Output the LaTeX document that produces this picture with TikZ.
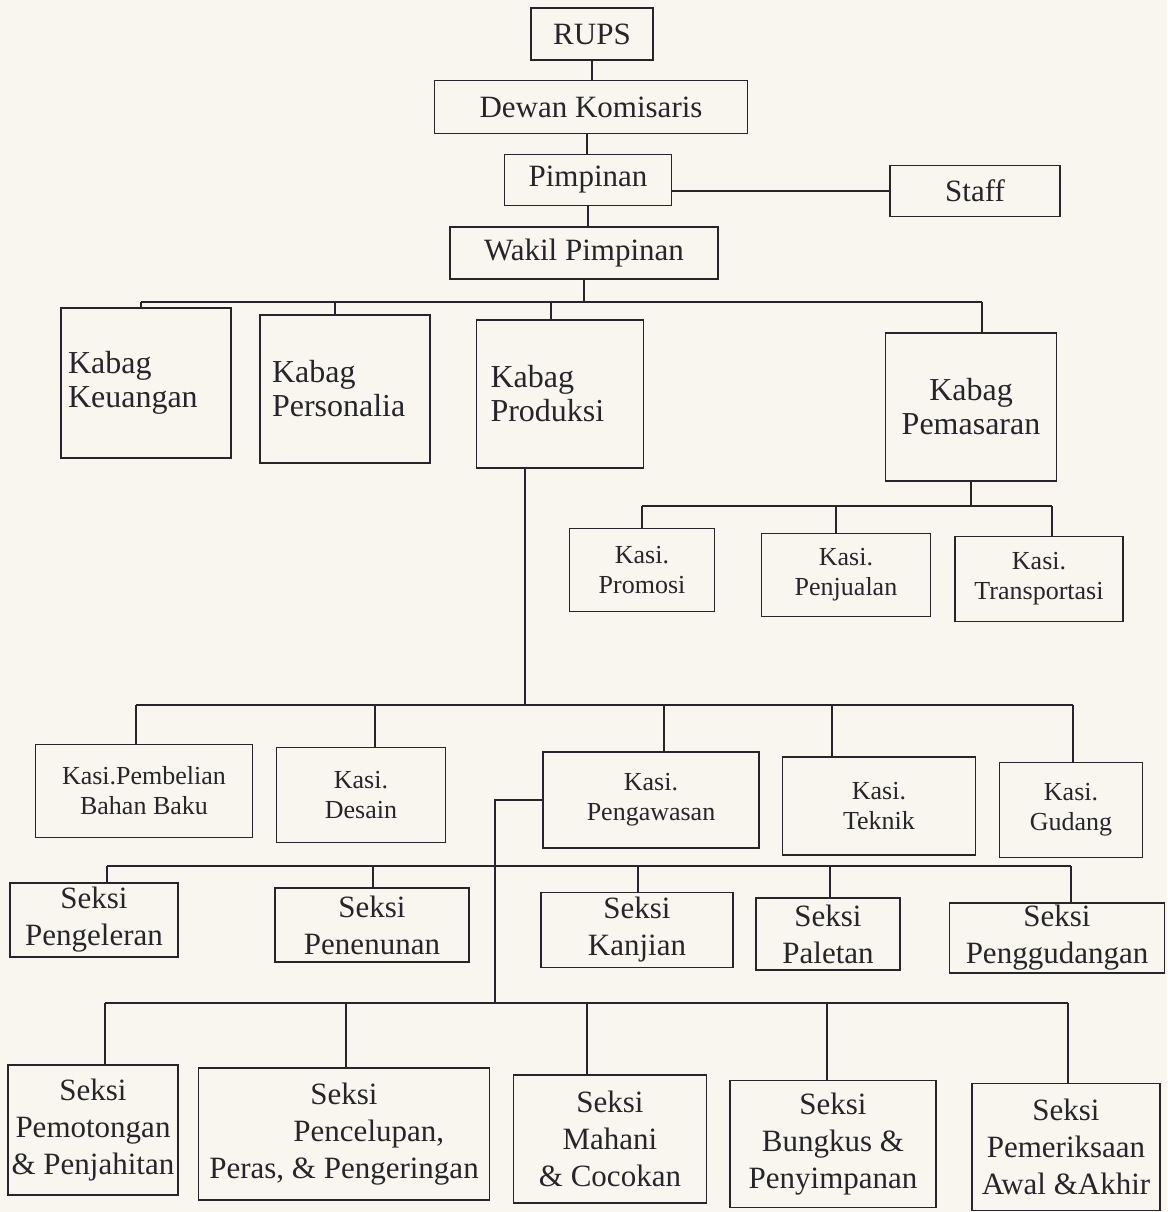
\documentclass[tikz,border=0pt]{standalone}
\usepackage{fontspec}
\setmainfont{Liberation Serif}
\usetikzlibrary{positioning,calc}
\definecolor{paper}{RGB}{249,246,240}
\definecolor{ink}{RGB}{38,38,42}

\tikzset{
	orgbox/.style={draw=ink, line width=1.4pt, text=ink, inner sep=0pt, align=center},
	headbox/.style={orgbox, font=\fontsize{31}{35}\selectfont},
	kabagbox/.style={orgbox, font=\fontsize{32}{34}\selectfont},
	kabagleft/.style 2 args={kabagbox, align=left, text width=#1, inner xsep=#2},
	kasibox/.style={orgbox, font=\fontsize{26}{30}\selectfont},
	seksibox/.style={orgbox, font=\fontsize{31}{37}\selectfont},
	link/.style={draw=ink, line width=1.4pt},
}

\begin{document}
\begin{tikzpicture}[x=1pt,y=-1pt]
		% paper and margins
		\fill[paper] (0,0) rectangle (1167,1212);
		\useasboundingbox (0,0) rectangle (1167,1212);
		% draw top nodes
		\node[headbox, minimum width=122, minimum height=52] (rups) at (592,34) {RUPS};
		\node[headbox, minimum width=313, minimum height=53] (dewan) at (591,107) {Dewan Komisaris};
		\node[headbox, minimum width=167, minimum height=51] (pimpinan) at (588,180) {Pimpinan};
		\node[headbox, minimum width=170, minimum height=51] (staff) at (975,191) {Staff};
		\node[headbox, minimum width=268, minimum height=52] (wakil) at (584,253) {Wakil Pimpinan};
		% draw kabag nodes
		\node[kabagleft={156}{7}, minimum height=150] (keuangan) at (146,383) {Kabag\\Keuangan};
		\node[kabagleft={146}{12}, minimum height=148] (personalia) at (345,389) {Kabag\\Personalia};
		\node[kabagleft={139}{14}, minimum height=148] (produksi) at (560,394) {Kabag\\Produksi};
		\node[kabagbox, minimum width=171, minimum height=148] (pemasaran) at (971,407) {Kabag\\Pemasaran};
		% draw kasi nodes under pemasaran
		\node[kasibox, minimum width=145, minimum height=83] (promosi) at (642,570) {Kasi.\\Promosi};
		\node[kasibox, minimum width=169, minimum height=83] (penjualan) at (846,575) {Kasi.\\Penjualan};
		\node[kasibox, minimum width=168, minimum height=85] (transportasi) at (1039,579) {Kasi.\\Transportasi};
		% draw kasi nodes under produksi
		\node[kasibox, minimum width=217, minimum height=93] (pembelian) at (144,791) {Kasi.Pembelian\\Bahan Baku};
		\node[kasibox, minimum width=169, minimum height=95] (desain) at (361,795) {Kasi.\\Desain};
		\node[kasibox, minimum width=216, minimum height=96] (pengawasan) at (651,800) {Kasi.\\Pengawasan};
		\node[kasibox, minimum width=193, minimum height=98] (teknik) at (879,806) {Kasi.\\Teknik};
		\node[kasibox, minimum width=143, minimum height=95] (gudang) at (1071,810) {Kasi.\\Gudang};
		% draw seksi nodes, first row
		\node[seksibox, minimum width=168, minimum height=74] (pengeleran) at (94,920) {Seksi\\Pengeleran};
		\node[seksibox, minimum width=194, minimum height=74] (penenunan) at (372,925) {Seksi\\Penenunan};
		\node[seksibox, minimum width=192, minimum height=75] (kanjian) at (637,930) {Seksi\\Kanjian};
		\node[seksibox, minimum width=144, minimum height=72] (paletan) at (828,934) {Seksi\\Paletan};
		\node[seksibox, minimum width=215, minimum height=70] (penggudangan) at (1057,938) {Seksi\\Penggudangan};
		% draw seksi nodes, second row
		\node[seksibox, minimum width=170, minimum height=130] (pemotongan) at (93,1130) {Seksi\\Pemotongan\\\& Penjahitan};
		\node[seksibox, minimum width=291, minimum height=132] (pencelupan) at (344,1134) {Seksi\\\hspace*{1.6em}Pencelupan,\\Peras, \& Pengeringan};
		\node[seksibox, minimum width=193, minimum height=128] (mahani) at (610,1139) {Seksi\\Mahani\\\& Cocokan};
		\node[seksibox, minimum width=206, minimum height=127] (bungkus) at (833,1144) {Seksi\\Bungkus \&\\Penyimpanan};
		\node[seksibox, minimum width=188, minimum height=127] (pemeriksaan) at (1066,1147) {Seksi\\Pemeriksaan\\Awal \&Akhir};
		% bus lines
		\coordinate (busA) at (0,302);
		\coordinate (busB) at (0,506);
		\coordinate (busC) at (0,705);
		\coordinate (busD) at (0,866);
		\coordinate (busE) at (0,1003);
		\coordinate (joinE) at (495,1003);
		% draw top connectors
		\draw[link] (rups.south) -- (rups.south |- dewan.north);
		\draw[link] ([xshift=-4]dewan.south) -- ([xshift=-4]dewan.south |- pimpinan.north);
		\draw[link] (pimpinan.south) -- (pimpinan.south |- wakil.north);
		\draw[link] (staff.west) -- (staff.west -| pimpinan.east);
		% draw kabag connectors
		\draw[link] (wakil.south) -- (wakil.south |- busA);
		\foreach \c/\d in {keuangan/-5, personalia/-10, produksi/-9, pemasaran/11}
		\draw[link] ([xshift=\d]\c.north) -- ([xshift=\d]\c.north |- busA);
		\draw[link] ([xshift=-5]keuangan.north |- busA) -- ([xshift=11]pemasaran.north |- busA);
		% draw pemasaran connectors
		\draw[link] (pemasaran.south) -- (pemasaran.south |- busB);
		\foreach \c/\d in {promosi/0, penjualan/-10, transportasi/13}
		\draw[link] ([xshift=\d]\c.north) -- ([xshift=\d]\c.north |- busB);
		\draw[link] (promosi.north |- busB) -- ([xshift=13]transportasi.north |- busB);
		% draw produksi connectors
		\draw[link] ([xshift=-35]produksi.south) -- ([xshift=-35]produksi.south |- busC);
		\foreach \c/\d in {pembelian/-8, desain/14, pengawasan/13, teknik/-47, gudang/2}
		\draw[link] ([xshift=\d]\c.north) -- ([xshift=\d]\c.north |- busC);
		\draw[link] ([xshift=-8]pembelian.north |- busC) -- ([xshift=2]gudang.north |- busC);
		% draw pengawasan connectors
		\draw[link] (pengawasan.west) -| (joinE);
		\foreach \c/\d in {pengeleran/13, penenunan/1, kanjian/1, paletan/2, penggudangan/14}
		\draw[link] ([xshift=\d]\c.north) -- ([xshift=\d]\c.north |- busD);
		\draw[link] ([xshift=13]pengeleran.north |- busD) -- ([xshift=14]penggudangan.north |- busD);
		\foreach \c/\d in {pemotongan/12, pencelupan/2, mahani/-23, bungkus/-6, pemeriksaan/2}
		\draw[link] ([xshift=\d]\c.north) -- ([xshift=\d]\c.north |- busE);
		\draw[link] ([xshift=12]pemotongan.north |- busE) -- ([xshift=2]pemeriksaan.north |- busE);
\end{tikzpicture}
\end{document}
